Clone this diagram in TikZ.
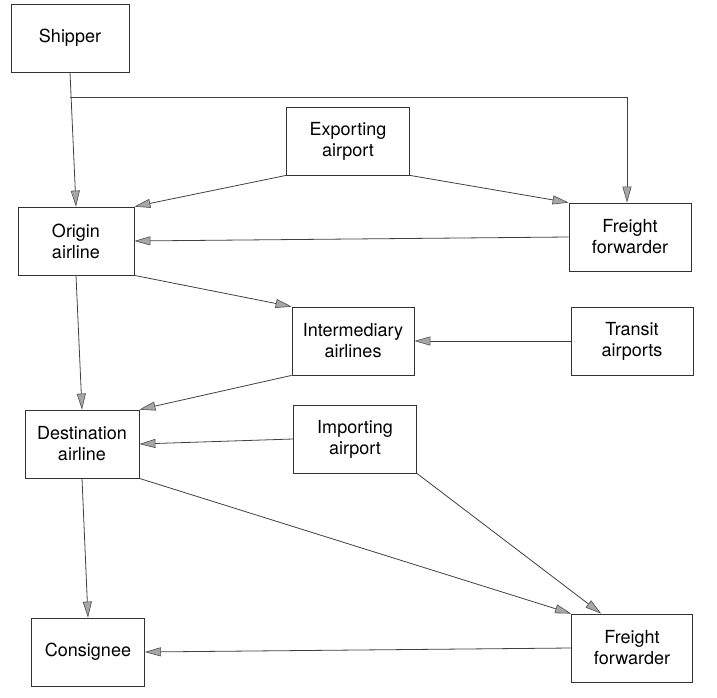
\documentclass[tikz,border=0pt]{standalone}
\usepackage{fontspec}
\setmainfont{TeX Gyre Heros}
\usetikzlibrary{arrows.meta}
\tikzset{
    party/.style={draw=black!80, line width=0.8pt, align=center,
        minimum height=68pt, inner sep=2pt,
        font=\fontsize{18}{21}\selectfont},
    flow/.style={draw=black!75, line width=0.8pt,
        -{Triangle[length=16pt,width=9pt,fill=gray!70,color=black!70,line width=0.6pt]}}
}
\begin{document}
\begin{tikzpicture}[x=1pt,y=-1pt]
    \useasboundingbox (0,0) rectangle (717,698);
    % parties
    \node[party, minimum width=118pt] (ship) at (70,38) {Shipper};
    \node[party, minimum width=123pt] (exp) at (348,141) {Exporting\\airport};
    \node[party, minimum width=116pt] (orig) at (76,241) {Origin\\airline};
    \node[party, minimum width=122pt] (fwdA) at (630,237) {Freight\\forwarder};
    \node[party, minimum width=122pt] (inter) at (353,341) {Intermediary\\airlines};
    \node[party, minimum width=122pt] (trans) at (632,341) {Transit\\airports};
    \node[party, minimum width=114pt] (dest) at (82,444) {Destination\\airline};
    \node[party, minimum width=123pt] (imp) at (355,439) {Importing\\airport};
    \node[party, minimum width=113pt] (cons) at (88,652) {Consignee};
    \node[party, minimum width=121pt] (fwdB) at (632,648) {Freight\\forwarder};
    \coordinate (split) at (70,97);
    % flows
    \draw[flow] (ship.south) -- (orig.north);
    \draw[flow] (split) -| ([xshift=-3pt]fwdA.north);
    \draw[flow] (exp.south west) -- (orig.north east);
    \draw[flow] (exp.south east) -- (fwdA.north west);
    \draw[flow] (fwdA.west) -- (orig.east);
    \draw[flow] (orig.south east) -- (inter.north west);
    \draw[flow] (orig.south) -- (dest.north);
    \draw[flow] (trans.west) -- (inter.east);
    \draw[flow] (inter.south west) -- (dest.north east);
    \draw[flow] (imp.west) -- (dest.east);
    \draw[flow] (dest.south east) -- (fwdB.north west);
    \draw[flow] (imp.south east) -- ([xshift=30pt]fwdB.north west);
    \draw[flow] (dest.south) -- (cons.north);
    \draw[flow] (fwdB.west) -- (cons.east);
\end{tikzpicture}
\end{document}
